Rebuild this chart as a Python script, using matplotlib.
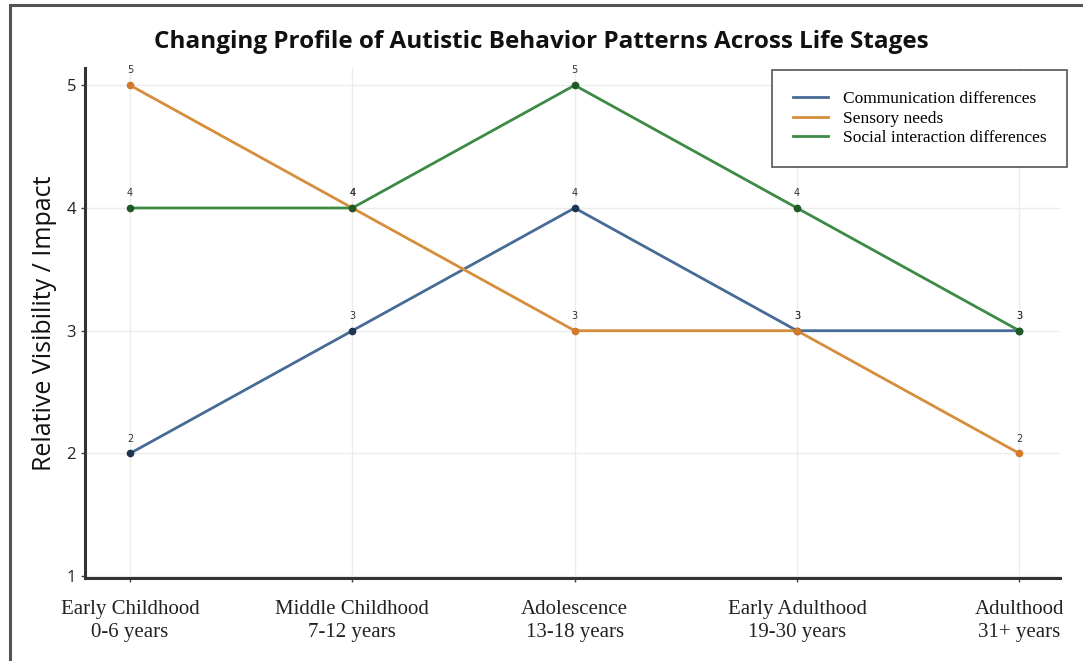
import matplotlib
matplotlib.use("Agg")
import matplotlib.pyplot as plt
from matplotlib.patches import Rectangle

stages = ["Early Childhood\n0-6 years", "Middle Childhood\n7-12 years", "Adolescence\n13-18 years",
          "Early Adulthood\n19-30 years", "Adulthood\n31+ years"]
communication = [2, 3, 4, 3, 3]
sensory = [5, 4, 3, 3, 2]
social = [4, 4, 5, 4, 3]
series_names = ["Communication differences", "Sensory needs", "Social interaction differences"]
colors = ["#476b95", "#d68d3c", "#3d8a46"]
marker_colors = ["#1f3550", "#d07a2a", "#1f5a25"]

fig = plt.figure(figsize=(10.83, 6.61), dpi=100)
# outer frame (only top/left visible in the reference)
fig.patches.append(Rectangle((0.009, -0.05), 1.1, 1.042, transform=fig.transFigure,
                             fill=False, edgecolor="#555555", linewidth=2.2))

ax = fig.add_axes([0.0785, 0.1256, 0.9005, 0.7714])
x = list(range(len(stages)))
for vals, name, c, mc in zip([communication, sensory, social], series_names, colors, marker_colors):
    ax.plot(x, vals, color=c, linewidth=2, label=name, zorder=3)
    ax.plot(x, vals, "o", color=mc, markersize=4.5, zorder=4)
    for xi, v in zip(x, vals):
        ax.text(xi, v + 0.08, str(v), ha="center", va="bottom", fontsize=7, color="#333333")

ax.set_xlim(-0.2025, 4.184)
ax.set_ylim(0.985, 5.14)
ax.set_xticks(x)
ax.set_xticklabels(stages, fontsize=15, family="Liberation Serif", color="#222222", linespacing=1.25)
ax.set_yticks([1, 2, 3, 4, 5])
ax.set_yticklabels(["1", "2", "3", "4", "5"], fontsize=12, family="Open Sans", color="#222222")
ax.tick_params(axis="both", length=3, width=1, color="#444444")
ax.tick_params(axis="x", pad=13)
ax.grid(True, color="#ececec", linewidth=1)
ax.set_axisbelow(True)
for s in ["top", "right"]:
    ax.spines[s].set_visible(False)
for s in ["left", "bottom"]:
    ax.spines[s].set_linewidth(2.2)
    ax.spines[s].set_color("#333333")

ax.set_ylabel("Relative Visibility / Impact", fontsize=18, family="Open Sans", color="#111111", labelpad=7)
fig.text(0.5, 0.936, "Changing Profile of Autistic Behavior Patterns Across Life Stages",
         ha="center", va="center", fontsize=17.5, fontweight="bold", family="Open Sans", color="#111111")

leg = ax.legend(loc="upper right", bbox_to_anchor=(1.007, 0.996), borderaxespad=0, fancybox=False,
                framealpha=1, edgecolor="#555555", prop={"family": "Liberation Serif", "size": 12.5},
                handlelength=2.0, handletextpad=0.85, borderpad=1.2, labelspacing=0.2)
leg.get_frame().set_linewidth(1.2)

fig.savefig("out.png", dpi=100)
